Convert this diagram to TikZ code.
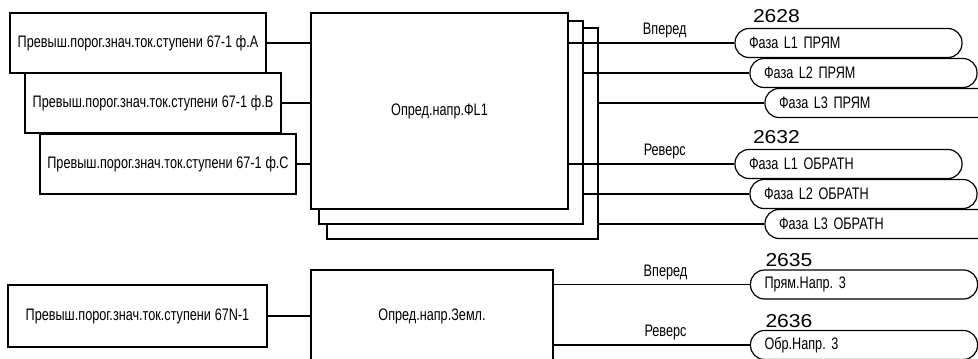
\documentclass[tikz,border=0pt]{standalone}
\usepackage{fontspec}
\setmainfont[FakeStretch=0.76]{Liberation Sans}
\newfontfamily\numfont[FakeStretch=1.13]{Liberation Sans}
\newcommand\diagfont{\fontsize{12.5pt}{14pt}\selectfont\frenchspacing\spaceskip 2.8pt plus 1pt minus 0.5pt\relax}
\usetikzlibrary{positioning}

\begin{document}
\begin{tikzpicture}[
    x=0.75pt, y=0.75pt,
    font=\diagfont,
    line width=0.9pt,
    inbox/.style = {draw, fill=white, minimum width=192pt, minimum height=45pt,
                    inner sep=0pt},
    blk/.style   = {draw, fill=white, inner sep=0pt},
    oval/.style  = {draw, fill=white, rounded corners=10.5pt, minimum height=21.75pt,
                    text width=149.25pt, inner xsep=10.5pt, inner ysep=0pt,
                    align=left},
    num/.style   = {font=\numfont\fontsize{14pt}{15pt}\selectfont,
                    inner sep=0pt, anchor=base west},
    lab/.style   = {inner sep=0pt}
]
\clip (0,0) rectangle (978,358);

% ---------------- phase direction block (stacked) ----------------
\node[blk, minimum width=203.25pt, minimum height=158.25pt] (fl1c) at (462.5,224.5) {};
\node[blk, minimum width=198pt,    minimum height=152.25pt] (fl1b) at (451,235.5) {};
\node[blk, minimum width=192.75pt, minimum height=147pt]    (fl1)  at (439.5,247) {Опред.напр.ФL1};

% ---------------- phase inputs ----------------
\node[inbox] (inA) at (138,315) {Превыш.порог.знач.ток.ступени 67-1 ф.A};
\node[inbox] (inB) at (153,255) {Превыш.порог.знач.ток.ступени 67-1 ф.B};
\node[inbox] (inC) at (168,194) {Превыш.порог.знач.ток.ступени 67-1 ф.C};

% ---------------- phase outputs ----------------
\node[oval] (o1) at (848.5,315) {Фаза L1 ПРЯМ};
\node[oval] (o2) at (863.5,285) {Фаза L2 ПРЯМ};
\node[oval] (o3) at (878.5,255) {Фаза L3 ПРЯМ};
\node[oval] (r1) at (848.5,194) {Фаза L1 ОБРАТН};
\node[oval] (r2) at (863.5,164) {Фаза L2 ОБРАТН};
\node[oval] (r3) at (878.5,134) {Фаза L3 ОБРАТН};

\node[num] (n2628) at ([xshift=13.5pt,yshift=3.75pt]o1.north west) {2628};
\node[num] (n2632) at ([xshift=13.5pt,yshift=3.75pt]r1.north west) {2632};

% ---------------- earth block ----------------
\node[blk, minimum width=194.25pt, minimum height=46.5pt] (inN) at (137.5,42)
    {Превыш.порог.знач.ток.ступени 67N-1};
\node[blk, minimum width=181.5pt, minimum height=69pt] (zem) at (432,42) {Опред.напр.Земл.};

\node[oval] (e1) at (864,73.5) {Прям.Напр. 3};
\node[oval] (e2) at (864,13)   {Обр.Напр. 3};

\node[num] (n2635) at ([xshift=11.25pt,yshift=2.25pt]e1.north west) {2635};
\node[num] (n2636) at ([xshift=11.25pt,yshift=1.5pt]e2.north west) {2636};

% ============= connections =============
\draw (inA.east) -- (inA.east -| fl1.west);
\draw (inB.east) -- (inB.east -| fl1.west);
\draw (inC.east) -- (inC.east -| fl1.west);

\draw (o1.west -| fl1.east) -- node[lab, above=3.5pt, pos=0.58]{Вперед} (o1.west);
\draw (o2.west -| fl1b.east) -- (o2.west);
\draw (o3.west -| fl1c.east) -- (o3.west);
\draw (r1.west -| fl1.east) -- node[lab, above=3.5pt, pos=0.58]{Реверс} (r1.west);
\draw (r2.west -| fl1b.east) -- (r2.west);
\draw (r3.west -| fl1c.east) -- (r3.west);

\draw (inN.east) -- (inN.east -| zem.west);
\draw (e1.west -| zem.east) -- node[lab, above=3pt, pos=0.57]{Вперед} (e1.west);
\draw (e2.west -| zem.east) -- node[lab, above=3pt, pos=0.57]{Реверс} (e2.west);

\end{tikzpicture}
\end{document}
